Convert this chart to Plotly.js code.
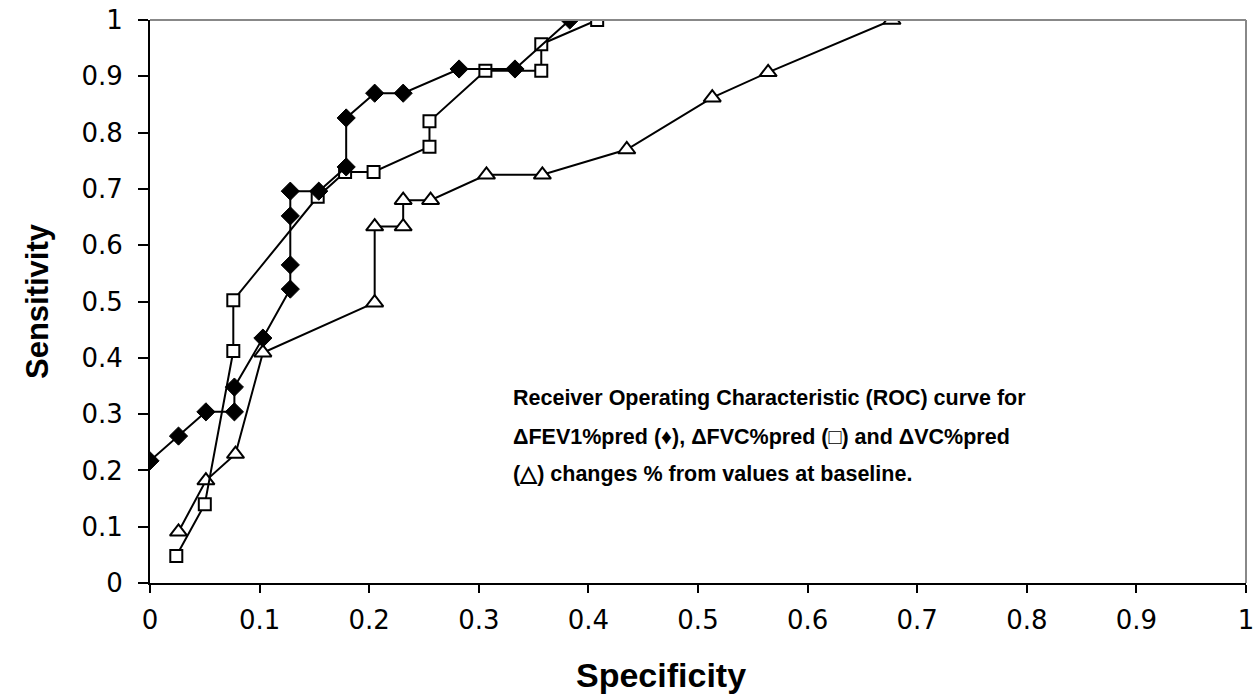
<!DOCTYPE html>
<html>
<head>
<meta charset="utf-8">
<script src="https://cdn.plot.ly/plotly-3.0.1.min.js"></script>
<style>html,body{margin:0;padding:0;background:#fff;}#chart{width:1257px;height:697px;}</style>
</head>
<body>
<div id="chart"></div>
<script>
// ΔFEV1%pred (diamonds)
const fev1Spec = [0, 0.026, 0.051, 0.077, 0.077, 0.103, 0.128, 0.128, 0.128, 0.128, 0.154, 0.179, 0.179, 0.205, 0.231, 0.282, 0.333, 0.383];
const fev1Sens = [0.217, 0.261, 0.304, 0.304, 0.348, 0.435, 0.522, 0.565, 0.652, 0.696, 0.696, 0.739, 0.826, 0.870, 0.870, 0.913, 0.913, 1.0];
// ΔFVC%pred (squares)
const fvcSpec = [0.024, 0.050, 0.076, 0.076, 0.153, 0.178, 0.204, 0.255, 0.255, 0.306, 0.357, 0.357, 0.408];
const fvcSens = [0.048, 0.140, 0.412, 0.502, 0.686, 0.730, 0.730, 0.775, 0.820, 0.910, 0.910, 0.957, 1.0];
// ΔVC%pred (triangles)
const vcSpec = [0.026, 0.051, 0.078, 0.103, 0.205, 0.205, 0.231, 0.231, 0.256, 0.307, 0.358, 0.435, 0.513, 0.564, 0.677];
const vcSens = [0.091, 0.182, 0.229, 0.409, 0.498, 0.633, 0.633, 0.680, 0.680, 0.725, 0.725, 0.770, 0.862, 0.907, 1.0];

const xTicks = [0, 0.1, 0.2, 0.3, 0.4, 0.5, 0.6, 0.7, 0.8, 0.9, 1];
const xTickText = ['0', '0.1', '0.2', '0.3', '0.4', '0.5', '0.6', '0.7', '0.8', '0.9', '1'];
const yTicks = [0, 0.1, 0.2, 0.3, 0.4, 0.5, 0.6, 0.7, 0.8, 0.9, 1];
const yTickText = ['0', '0.1', '0.2', '0.3', '0.4', '0.5', '0.6', '0.7', '0.8', '0.9', '1'];
const xTitle = 'Specificity';
const yTitle = 'Sensitivity';
const noteLines = [
  'Receiver Operating Characteristic (ROC) curve for',
  'ΔFEV1%pred (♦), ΔFVC%pred (□) and ΔVC%pred',
  '(△) changes % from values at baseline.'
];

const lineStyle = {color: '#000', width: 2};
const traces = [
  {x: vcSpec, y: vcSens, mode: 'lines+markers', name: 'ΔVC%pred', line: lineStyle,
   marker: {symbol: 'triangle-up', size: 15, color: '#fff', line: {color: '#000', width: 2}}},
  {x: fvcSpec, y: fvcSens, mode: 'lines+markers', name: 'ΔFVC%pred', line: lineStyle,
   marker: {symbol: 'square', size: 12, color: '#fff', line: {color: '#000', width: 2}}},
  {x: fev1Spec, y: fev1Sens, mode: 'lines+markers', name: 'ΔFEV1%pred', line: lineStyle,
   marker: {symbol: 'diamond', size: 14, color: '#000', line: {color: '#000', width: 1}}}
];

const tickFont = {family: 'DejaVu Sans, Verdana, sans-serif', size: 26, color: '#000'};
const noteY = [0.3286, 0.2593, 0.1936];
const layout = {
  width: 1257, height: 697,
  margin: {l: 150, r: 11, t: 20, b: 114},
  paper_bgcolor: '#fff', plot_bgcolor: '#fff',
  showlegend: false,
  xaxis: {
    range: [0, 1], tickvals: xTicks, ticktext: xTickText,
    showgrid: false, zeroline: false, showline: true, linecolor: '#000', linewidth: 2,
    ticks: 'outside', ticklen: 8, tickwidth: 2, tickcolor: '#000',
    tickfont: tickFont, ticklabelstandoff: 5
  },
  yaxis: {
    range: [0, 1], tickvals: yTicks, ticktext: yTickText,
    showgrid: false, zeroline: false, showline: true, linecolor: '#000', linewidth: 2,
    ticks: 'outside', ticklen: 10, tickwidth: 2, tickcolor: '#000',
    tickfont: tickFont, ticklabelstandoff: 10,
    title: {text: yTitle, font: {family: 'Liberation Sans, Arial, sans-serif', size: 31, color: '#000', weight: 'bold'}, standoff: 24}
  },
  shapes: [
    {type: 'line', xref: 'paper', yref: 'paper', x0: 0, x1: 1, y0: 1, y1: 1, line: {color: '#888', width: 2}},
    {type: 'line', xref: 'paper', yref: 'paper', x0: 1, x1: 1, y0: 0, y1: 1, line: {color: '#888', width: 2}}
  ],
  annotations: noteLines.map((t, i) => ({
    xref: 'paper', yref: 'paper', x: 0.3297, y: noteY[i], xanchor: 'left', yanchor: 'middle',
    align: 'left', showarrow: false,
    text: '<b>' + t + '</b>',
    font: {family: 'Liberation Sans, Arial, sans-serif', size: 21.5, color: '#000'}
  })).concat([{
    xref: 'paper', yref: 'paper', x: 0.466, y: -0.1634, xanchor: 'center', yanchor: 'middle',
    showarrow: false, text: '<b>' + xTitle + '</b>',
    font: {family: 'Liberation Sans, Arial, sans-serif', size: 34, color: '#000'}
  }])
};

Plotly.newPlot('chart', traces, layout, {displayModeBar: false, staticPlot: true});
</script>
</body>
</html>
